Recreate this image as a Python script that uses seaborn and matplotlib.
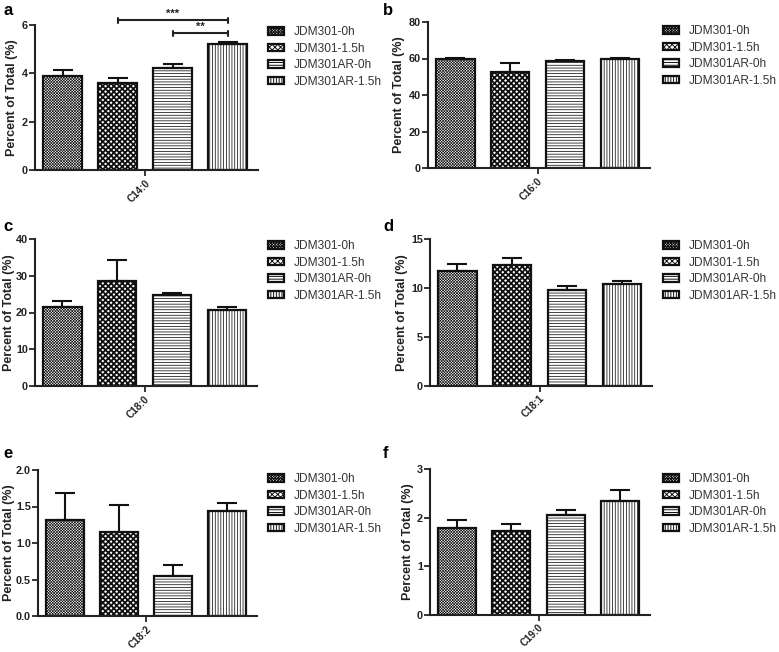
import numpy as np
import pandas as pd
import matplotlib
matplotlib.use('Agg')
import matplotlib.pyplot as plt
import seaborn as sns

# =============================================================================
# Data
# =============================================================================
groups = ['JDM301-0h', 'JDM301-1.5h', 'JDM301AR-0h', 'JDM301AR-1.5h']
acids = ['C14:0', 'C16:0', 'C18:0', 'C18:1', 'C18:2', 'C19:0']

c14_0_mean = [3.90, 3.59, 4.23, 5.20]
c14_0_sem = [0.22, 0.20, 0.14, 0.11]
c16_0_mean = [59.5, 52.6, 58.6, 59.5]
c16_0_sem = [0.8, 4.9, 0.4, 0.6]
c18_0_mean = [21.5, 28.5, 24.7, 20.7]
c18_0_sem = [1.5, 5.7, 0.7, 0.7]
c18_1_mean = [11.76, 12.38, 9.82, 10.43]
c18_1_sem = [0.74, 0.72, 0.34, 0.27]
c18_2_mean = [1.32, 1.155, 0.548, 1.443]
c18_2_sem = [0.36, 0.365, 0.152, 0.10]
c19_0_mean = [1.78, 1.72, 2.045, 2.34]
c19_0_sem = [0.18, 0.14, 0.115, 0.22]

means = [c14_0_mean, c16_0_mean, c18_0_mean, c18_1_mean, c18_2_mean, c19_0_mean]
sems = [c14_0_sem, c16_0_sem, c18_0_sem, c18_1_sem, c18_2_sem, c19_0_sem]

# y axis ranges
y_max = [6, 80, 40, 15, 2.0, 3]
y_step = [2, 20, 10, 5, 0.5, 1]

# significance brackets for panel a: (bar from, bar to, stars, height)
sig_a = [(1, 3, '***', 6.2), (2, 3, '**', 5.66)]

panel_letters = ['a', 'b', 'c', 'd', 'e', 'f']

# =============================================================================
# Style
# =============================================================================
sns.set_theme(style='ticks')
plt.rcParams['font.family'] = ['Liberation Sans', 'DejaVu Sans']
plt.rcParams['hatch.linewidth'] = 0.7
plt.rcParams['hatch.color'] = 'black'

hatches = ['xxxxxxxxxxxx', 'xxxxxx', '------', '||||||']
hatch_lw = [0.45, 1.3, 0.55, 0.55]

W, H = 779, 652
fig = plt.figure(figsize=(W / 100, H / 100), dpi=100)

# axes boxes in pixels: left, bottom, right, top
boxes = [(35, 170, 258, 25), (428, 168, 650, 22),
         (35, 386, 257, 239), (430, 386, 652, 239),
         (38, 616, 257, 470), (430, 615, 650, 469)]
letter_pos = [(3, 3), (383, 3), (3, 219), (383, 219), (3, 446), (383, 446)]
# legend top-left corner in pixels
legend_pos = [(268, 26), (663, 25), (268, 240), (663, 240), (268, 473), (663, 473)]


def draw_panel(ax, acid, mean, sem, ymax, ystep, leg_xy, ylabelpad):
    df = pd.DataFrame({'acid': [acid] * len(groups), 'group': groups, 'value': mean})
    sns.barplot(data=df, x='acid', y='value', hue='group', hue_order=groups,
                palette=['white'] * 4, saturation=1, edgecolor='#111111',
                linewidth=1.6, gap=0.3, errorbar=None, legend=False, ax=ax)
    bars = ax.patches[:4]
    for p, h, lw in zip(bars, hatches, hatch_lw):
        p.set_hatch(h)
        if hasattr(p, 'set_hatch_linewidth'):
            p.set_hatch_linewidth(lw)
    xs = [p.get_x() + p.get_width() / 2 for p in bars]
    ax.errorbar(xs, mean, yerr=[np.zeros(len(mean)), sem], fmt='none',
                ecolor='#111111', elinewidth=1.5, capsize=7, capthick=1.5, zorder=1)

    ax.set_xlim(-0.4, 0.41)
    ax.set_ylim(0, ymax)
    ticks = np.arange(0, ymax + ystep / 2, ystep)
    ax.set_yticks(ticks)
    if ystep < 1:
        ax.set_yticklabels(['%.1f' % v for v in ticks])
    ax.set_xticks([0])
    ax.set_xticklabels([acid], rotation=45, ha='right', va='top',
                       rotation_mode='anchor', fontsize=7.2, fontweight='bold',
                       color='#222222')
    ax.set_xlabel('')
    ax.set_ylabel('Percent of Total (%)', fontsize=9, fontweight='bold',
                  color='#222222', labelpad=ylabelpad)
    ax.tick_params(axis='y', labelsize=7.8, length=4, width=1.3, pad=1,
                   labelcolor='#222222')
    ax.tick_params(axis='x', length=4, width=1.3, pad=1.5)
    for lab in ax.get_yticklabels():
        lab.set_fontweight('bold')
    sns.despine(ax=ax)
    for s in ['left', 'bottom']:
        ax.spines[s].set_linewidth(1.5)
        ax.spines[s].set_color('#222222')

    ax.legend(handles=bars, labels=groups, loc='upper left',
              bbox_to_anchor=(leg_xy[0] / W, 1 - leg_xy[1] / H),
              bbox_transform=fig.transFigure, frameon=False, fontsize=8.6,
              handlelength=1.3, handleheight=0.6, handletextpad=0.85,
              labelspacing=0.38, borderpad=0, borderaxespad=0,
              labelcolor='#333333')
    return xs


for i in range(6):
    l, b, r, t = boxes[i]
    ax = fig.add_axes([l / W, 1 - b / H, (r - l) / W, (b - t) / H])
    xs = draw_panel(ax, acids[i], means[i], sems[i], y_max[i], y_step[i],
                    legend_pos[i], 1 if i in (2, 4) else 2.5)

    if i == 0:
        for i0, i1, stars, yv in sig_a:
            ax.plot([xs[i0], xs[i1]], [yv, yv], color='#222222', lw=1.5, clip_on=False)
            for xv in (xs[i0], xs[i1]):
                ax.plot([xv, xv], [yv - 0.13, yv + 0.08], color='#222222', lw=1.5,
                        clip_on=False)
            ax.text((xs[i0] + xs[i1]) / 2, yv + 0.05, stars, ha='center', va='bottom',
                    fontsize=8, fontweight='bold', color='#222222')

    lx, ly = letter_pos[i]
    fig.text(lx / W, 1 - ly / H, panel_letters[i], ha='left', va='top',
             fontsize=12, fontweight='bold', color='black')

plt.savefig('out.png', dpi=100)
